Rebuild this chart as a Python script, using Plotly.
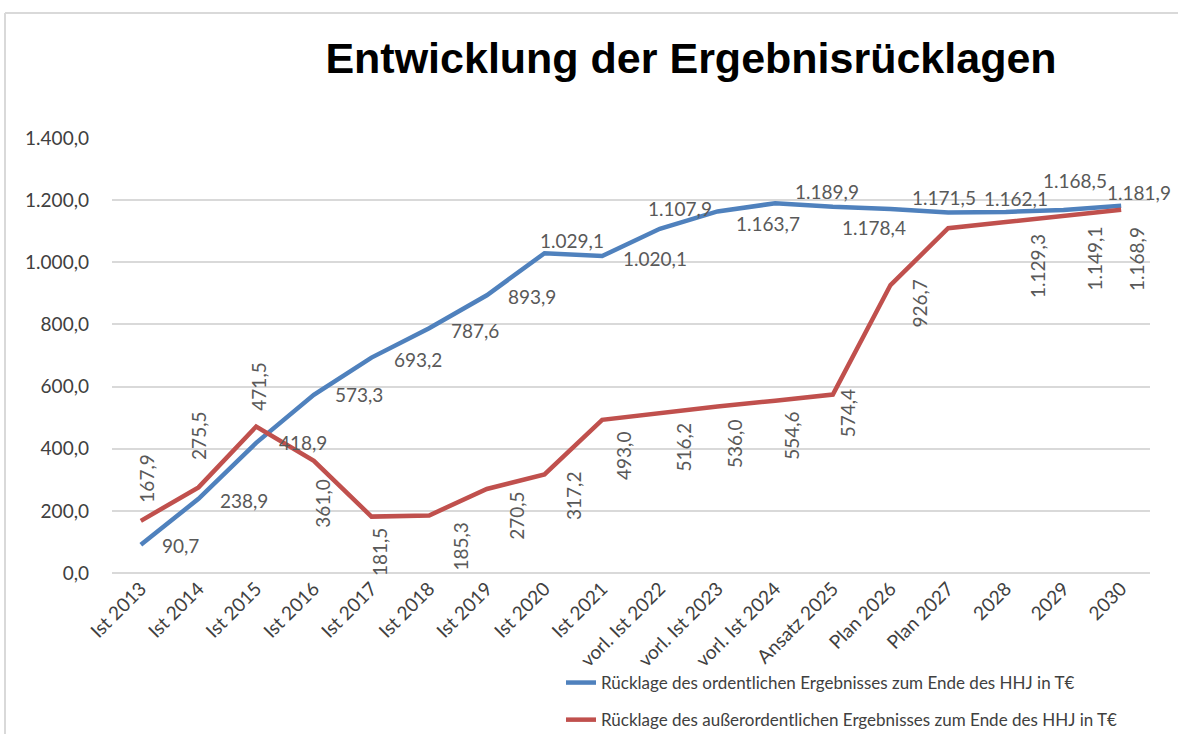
import plotly.graph_objects as go

# ---------------- data ----------------
categories = ["Ist 2013", "Ist 2014", "Ist 2015", "Ist 2016", "Ist 2017", "Ist 2018",
              "Ist 2019", "Ist 2020", "Ist 2021", "vorl. Ist 2022", "vorl. Ist 2023",
              "vorl. Ist 2024", "Ansatz 2025", "Plan 2026", "Plan 2027", "2028", "2029", "2030"]

ordentlich = [90.7, 238.9, 418.9, 573.3, 693.2, 787.6, 893.9, 1029.1, 1020.1, 1107.9,
              1163.7, 1189.9, 1178.4, 1171.5, 1160.0, 1162.1, 1168.5, 1181.9]

ausserordentlich = [167.9, 275.5, 471.5, 361.0, 181.5, 185.3, 270.5, 317.2, 493.0, 516.2,
                    536.0, 554.6, 574.4, 926.7, 1109.5, 1129.3, 1149.1, 1168.9]

# which points carry a data label in the original (Plan 2027 has none)
label_shown = [True] * 14 + [False] + [True] * 3

name_ord = "Rücklage des ordentlichen Ergebnisses zum Ende des HHJ in T€"
name_aord = "Rücklage des außerordentlichen Ergebnisses zum Ende des HHJ in T€"
title = "Entwicklung der Ergebnisrücklagen"

# ---------------- label placement (style, px) ----------------
blue_place = [("left", 19, 1), ("left", 19, 2), ("left", 21, 0), ("left", 19, 0),
              ("left", 20, 2), ("left", 20, 2), ("left", 19, 1), ("center", 27, -13),
              ("left", 19, 2), ("center", 20, -20), ("left", 16, 12), ("center", 52, -12),
              ("left", 7, 21), ("left", 19, -12), None, ("center", 10, -13),
              ("center", 11, -29), ("center", 18, -13)]
red_place = [("above", 6, 16), ("above", 0, 25), ("above", 2, 14), ("below", 9, 17),
             ("below", 8, 10), ("below", 31, 5), ("below", 30, 1), ("below", 29, -4),
             ("below", 22, 10), ("below", 24, 9), ("below", 17, 12), ("below", 17, 9),
             ("below", 15, -7), ("below", 29, -7), None, ("below", 31, 10),
             ("below", 31, 9), ("below", 16, 15)]

BLUE = "#4F81BD"
RED = "#C0504D"
FONT = "Lato, 'Open Sans', sans-serif"

W, H = 1178, 734
ML, MR, MT, MB = 112, 28, 138, 161
PW, PH = W - ML - MR, H - MT - MB


def de(v):
    s = f"{v:,.1f}"
    return s.replace(",", "X").replace(".", ",").replace("X", ".")


fig = go.Figure()
fig.add_trace(go.Scatter(x=categories, y=ordentlich, mode="lines", name=name_ord,
                         line=dict(color=BLUE, width=4.5), legendgroup="a"))
fig.add_trace(go.Scatter(x=categories, y=ausserordentlich, mode="lines", name=name_aord,
                         line=dict(color=RED, width=4.5), legendgroup="b"))

annotations = []
for i, (v, show, p) in enumerate(zip(ordentlich, label_shown, blue_place)):
    if not show or p is None:
        continue
    anchor, dx, dy = p
    annotations.append(dict(x=i, y=v, xref="x", yref="y", text=de(v), showarrow=False,
                            xanchor=anchor, yanchor="middle", xshift=dx, yshift=-dy,
                            font=dict(family=FONT, size=19, color="#595959")))
for i, (v, show, p) in enumerate(zip(ausserordentlich, label_shown, red_place)):
    if not show or p is None:
        continue
    pos, dx, gap = p
    annotations.append(dict(x=i, y=v, xref="x", yref="y", text=de(v), showarrow=False,
                            textangle=-90, xanchor="center",
                            yanchor="bottom" if pos == "above" else "top",
                            xshift=dx, yshift=gap if pos == "above" else -gap,
                            font=dict(family=FONT, size=19, color="#595959")))

# outer chart frame (light grey lines at top and left)
fx = (5 - ML) / PW
fy = (H - MB - 13) / PH
shapes = [
    dict(type="line", xref="paper", yref="paper", x0=fx, x1=(W - ML) / PW + 0.01, y0=fy, y1=fy,
         line=dict(color="#d9d9d9", width=2)),
    dict(type="line", xref="paper", yref="paper", x0=fx, x1=fx, y0=fy, y1=-(MB + 5) / PH,
         line=dict(color="#d9d9d9", width=2)),
]

fig.update_layout(
    width=W, height=H,
    margin=dict(l=ML, r=MR, t=MT, b=MB, autoexpand=False),
    paper_bgcolor="white", plot_bgcolor="white",
    separators=",.",
    title=dict(text=title, x=691 / W, xanchor="center", y=1 - 58 / H, yanchor="middle",
               xref="container", yref="container",
               font=dict(family="'Liberation Sans', Arial, sans-serif", size=43, color="black",
                         weight="bold")),
    xaxis=dict(type="category", range=[-0.5, len(categories) - 0.5], showgrid=False,
               showline=False, zeroline=False, ticks="", tickangle=-45, automargin=False,
               tickfont=dict(family=FONT, size=19, color="#404040")),
    yaxis=dict(range=[0, 1400], dtick=200, tickformat=",.1f", showgrid=True,
               gridcolor="#d9d9d9", gridwidth=1.5, zeroline=True, zerolinecolor="#d9d9d9",
               zerolinewidth=1.5, showline=False, ticks="", ticklabelstandoff=22,
               automargin=False,
               tickfont=dict(family=FONT, size=19, color="#404040")),
    showlegend=True,
    legend=dict(x=(561 - ML) / PW, xanchor="left", y=(H - MB - 665) / PH, yanchor="top",
                orientation="v", tracegroupgap=12, bgcolor="rgba(0,0,0,0)",
                font=dict(family=FONT, size=17, color="#404040")),
    annotations=annotations,
    shapes=shapes,
)

fig.write_html("out.html", config={"displayModeBar": False},
               post_script="document.body.style.margin='0';document.body.style.overflow='hidden';")
